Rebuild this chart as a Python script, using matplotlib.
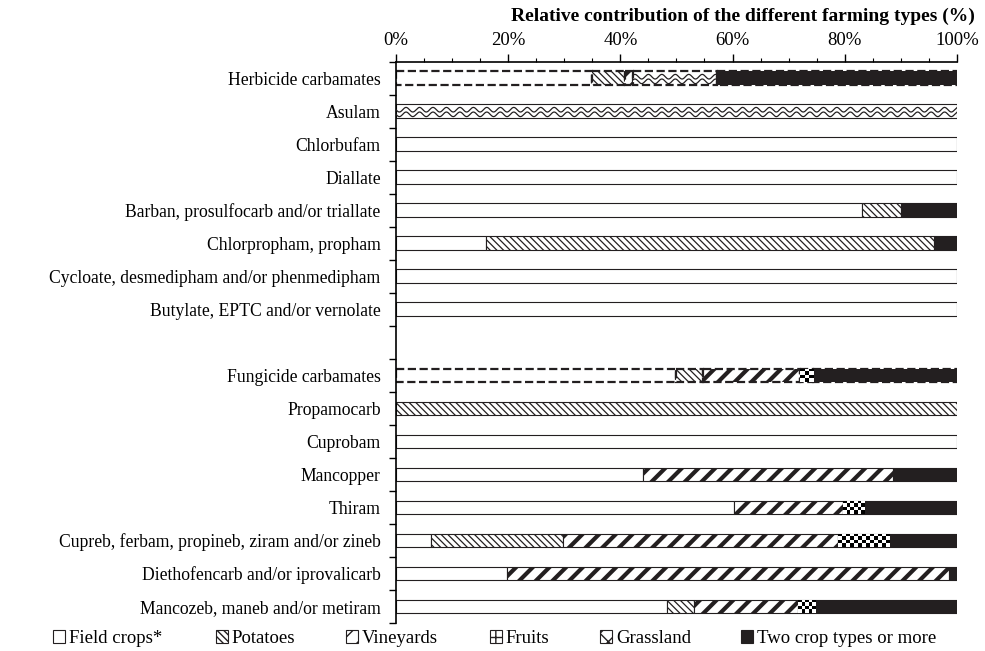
import matplotlib
matplotlib.use('Agg')
import matplotlib.pyplot as plt
import matplotlib.patches as mpatches
import numpy as np

plt.rcParams['font.family'] = ['Liberation Serif', 'DejaVu Serif']

# rows from top to bottom, '' is the empty spacer row
labels = ['Herbicide carbamates', 'Asulam', 'Chlorbufam', 'Diallate',
          'Barban, prosulfocarb and/or triallate', 'Chlorpropham, propham',
          'Cycloate, desmedipham and/or phenmedipham', 'Butylate, EPTC and/or vernolate',
          '',
          'Fungicide carbamates', 'Propamocarb', 'Cuprobam', 'Mancopper', 'Thiram',
          'Cupreb, ferbam, propineb, ziram and/or zineb',
          'Diethofencarb and/or iprovalicarb', 'Mancozeb, maneb and/or metiram']
summary_rows = ['Herbicide carbamates', 'Fungicide carbamates']

field_crops = [35, 0, 100, 100, 83, 16, 100, 100, 0, 50, 0, 100, 44, 60.3, 6.3, 19.8, 48.4]
potatoes    = [5.8, 0, 0, 0, 7, 80, 0, 0, 0, 4.7, 100, 0, 0, 0, 23.5, 0, 4.7]
vineyards   = [1.4, 0, 0, 0, 0, 0, 0, 0, 0, 17.3, 0, 0, 44.6, 19.4, 49, 78.8, 18.5]
fruits      = [0, 0, 0, 0, 0, 0, 0, 0, 0, 2.4, 0, 0, 0, 3.9, 9.1, 0, 3.2]
grassland   = [15, 100, 0, 0, 0, 0, 0, 0, 0, 0, 0, 0, 0, 0, 0, 0, 0]
two_or_more = [42.8, 0, 0, 0, 10, 4, 0, 0, 0, 25.6, 0, 0, 11.4, 16.4, 12.1, 1.4, 25.2]

series = [('Field crops*', field_crops), ('Potatoes', potatoes), ('Vineyards', vineyards),
          ('Fruits', fruits), ('Grassland', grassland), ('Two crop types or more', two_or_more)]

dark = '#231f20'
styles = {
    'Field crops*': dict(facecolor='white', hatch=None, hlw=1.0),
    'Potatoes': dict(facecolor='white', hatch='\\\\\\\\\\', hlw=0.9),
    'Vineyards': dict(facecolor='white', hatch='//', hlw=3.0),
    'Fruits': dict(facecolor='white', hatch=None, hlw=1.0),
    'Grassland': dict(facecolor='white', hatch=None, hlw=1.0),
    'Two crop types or more': dict(facecolor=dark, hatch=None, hlw=1.0),
}

fig = plt.figure(figsize=(9.85, 6.51), dpi=100)
ax = fig.add_axes([0.402, 0.043, 0.5695, 0.862])

y = np.arange(len(labels))
h = 0.42
left = np.zeros(len(labels))
for name, vals in series:
    vals = np.array(vals, dtype=float)
    st = styles[name]
    for i, v in enumerate(vals):
        if v <= 0:
            continue
        is_sum = labels[i] in summary_rows
        with plt.rc_context({'hatch.linewidth': st['hlw'], 'hatch.color': dark}):
            b = ax.barh(y[i], v, left=left[i], height=h, color=st['facecolor'],
                        edgecolor=dark, linewidth=1.6 if is_sum else 0.8,
                        linestyle='--' if is_sum else '-', hatch=st['hatch'])[0]
        try:
            b.set_hatch_linewidth(st['hlw'])
        except AttributeError:
            pass
        x0, x1 = left[i], left[i] + v
        if name == 'Grassland':
            # wavy pattern
            xs = np.linspace(x0, x1, 600)
            for off in (-0.05, 0.09):
                ys = y[i] + off + 0.07 * np.sin(2 * np.pi * xs / 2.4)
                ln, = ax.plot(xs, ys, color=dark, lw=0.9, zorder=3)
                ln.set_clip_path(b)
        if name == 'Fruits':
            nx = max(2, int(round(v / 0.7)))
            board = (np.add.outer(np.arange(4), np.arange(nx)) % 2).astype(float)
            im = ax.imshow(board, cmap='gray', extent=(x0, x1, y[i] + h / 2, y[i] - h / 2),
                           aspect='auto', interpolation='nearest', zorder=2.5)
            im.set_clip_path(b)
    left += vals

ax.set_xlim(0, 100)
ax.set_ylim(len(labels) - 0.5, -0.5)

ax.xaxis.tick_top()
ax.set_xticks(np.arange(0, 101, 20))
ax.set_xticklabels([f'{t}%' for t in range(0, 101, 20)], fontsize=13.5)
ax.set_xticks(np.arange(0, 101, 5), minor=True)
ax.tick_params(axis='x', which='major', direction='out', length=6, width=1, pad=3)
ax.tick_params(axis='x', which='minor', direction='out', length=3, width=0.8)

ax.set_yticks(y)
ax.set_yticklabels(labels, fontsize=12.7)
ax.set_yticks(np.arange(-0.5, len(labels) + 0.5, 1), minor=True)
ax.tick_params(axis='y', which='major', length=0, pad=11)
ax.tick_params(axis='y', which='minor', direction='out', length=5, width=1)

for s in ['right', 'bottom']:
    ax.spines[s].set_visible(False)
ax.spines['left'].set_linewidth(1.2)
ax.spines['top'].set_linewidth(1.2)

fig.text(0.99, 0.975, 'Relative contribution of the different farming types (%)',
         ha='right', va='center', fontsize=14, fontweight='bold')

# legend, one entry per position along the bottom
legend_x = [0.054, 0.219, 0.351, 0.497, 0.609, 0.752]
for (name, _), lx in zip(series, legend_x):
    st = styles[name]
    hatch = st['hatch']
    if name == 'Fruits':
        hatch = '++'
    if name == 'Grassland':
        hatch = 'xx'
    hd = mpatches.Patch(facecolor=st['facecolor'], edgecolor=dark, hatch=hatch,
                        linewidth=0.8, label=name)
    fig.legend(handles=[hd], loc='center left', bbox_to_anchor=(lx, 0.019),
               frameon=False, fontsize=13.5, handlelength=0.65, handleheight=0.65,
               handletextpad=0.2, borderaxespad=0, borderpad=0)

fig.savefig('out.png', dpi=100)
